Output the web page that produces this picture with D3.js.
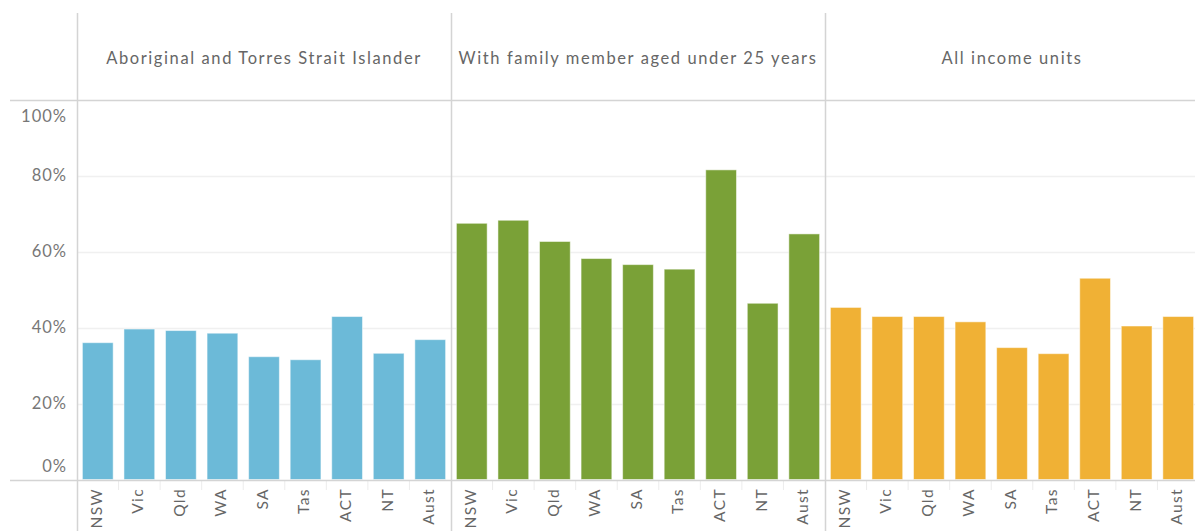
<!DOCTYPE html>
<html>
<head>
<meta charset="utf-8">
<script src="https://cdn.jsdelivr.net/npm/d3@7"></script>
<style>
  body { margin: 0; background: #fff; }
  svg { display: block; font-family: Lato, "Open Sans", sans-serif; }
</style>
</head>
<body>
<svg id="chart" width="1195" height="531"></svg>
<script>
const states = ["NSW", "Vic", "Qld", "WA", "SA", "Tas", "ACT", "NT", "Aust"];
const panels = ["Aboriginal and Torres Strait Islander", "With family member aged under 25 years", "All income units"];
const colors = ["#6cbad8", "#7aa137", "#f0b135"];
const indigenous = [0.361, 0.397, 0.393, 0.386, 0.324, 0.316, 0.430, 0.333, 0.369];
const youngFamily = [0.676, 0.684, 0.628, 0.583, 0.567, 0.555, 0.817, 0.465, 0.648];
const allUnits = [0.454, 0.430, 0.430, 0.416, 0.348, 0.332, 0.531, 0.405, 0.430];
const yTicks = [0, 0.2, 0.4, 0.6, 0.8, 1.0];
const series = [indigenous, youngFamily, allUnits];

const width = 1195, height = 531;
const left = 77, panelW = 374;
const svg = d3.select("#chart");

const y = d3.scaleLinear().domain([0, 1]).range([479.5, 100.5]);
const px = d3.scaleBand().domain(panels).range([left, left + panelW * 3]);
const x = d3.scaleBand().domain(states).range([0, panelW]).paddingInner(0.26).paddingOuter(0.13);

// gridlines
svg.append("g")
  .selectAll("line")
  .data(yTicks.filter((d) => d > 0 && d < 1))
  .join("line")
  .attr("x1", left).attr("x2", width)
  .attr("y1", (d) => Math.round(y(d)) + 0.5).attr("y2", (d) => Math.round(y(d)) + 0.5)
  .style("stroke", "#f0f0f0").style("stroke-width", 1.5);

// bars
panels.forEach((p, i) => {
  let g = svg.append("g").attr("transform", `translate(${px(p)},0)`);
  g.selectAll("rect")
    .data(series[i])
    .join("rect")
    .attr("x", (d, j) => x(states[j]))
    .attr("y", (d) => y(d))
    .attr("width", x.bandwidth())
    .attr("height", (d) => y(0) - y(d))
    .style("fill", colors[i])
    .style("stroke", "#fff")
    .style("stroke-opacity", 0.5)
    .style("stroke-width", 1);

  g.append("text")
    .attr("x", panelW / 2)
    .attr("y", 60)
    .attr("text-anchor", "middle")
    .attr("dominant-baseline", "middle")
    .style("font-size", "16.5px")
    .style("letter-spacing", "1.6px")
    .style("fill", "#666")
    .text(p);

  // x labels
  g.selectAll(".xl")
    .data(states)
    .join("text")
    .attr("class", "xl")
    .attr("transform", (d) => `translate(${x(d) + x.bandwidth() / 2},488) rotate(-90)`)
    .attr("text-anchor", "end")
    .attr("dominant-baseline", "middle")
    .style("font-size", "15.5px")
    .style("letter-spacing", "1.4px")
    .style("fill", "#666")
    .text((d) => d);

  // small separators between labels
  g.selectAll(".sep")
    .data(states.slice(1))
    .join("line")
    .attr("x1", (d) => x(d) - x.step() * x.paddingInner() / 2)
    .attr("x2", (d) => x(d) - x.step() * x.paddingInner() / 2)
    .attr("y1", 481).attr("y2", 490)
    .style("stroke", "#ececec");
});

// y axis labels
svg.append("g")
  .selectAll("text")
  .data(yTicks)
  .join("text")
  .attr("x", 67)
  .attr("y", (d) => (d == 1 ? y(d) + 17 : d == 0 ? y(d) - 12 : y(d) + 1))
  .attr("text-anchor", "end")
  .attr("dominant-baseline", "middle")
  .style("font-size", "16.5px")
  .style("letter-spacing", "1px")
  .style("fill", "#777")
  .text(d3.format(".0%"));

// frame lines
let border = "#d4d4d4";
svg.append("line").attr("x1", 10).attr("x2", width).attr("y1", 100.5).attr("y2", 100.5).style("stroke", border).style("stroke-width", 1.5);
svg.append("line").attr("x1", 10).attr("x2", width).attr("y1", 480.5).attr("y2", 480.5).style("stroke", border).style("stroke-width", 1.5);
svg.append("g")
  .selectAll("line")
  .data(panels)
  .join("line")
  .attr("x1", (d) => Math.round(px(d)) + 0.5)
  .attr("x2", (d) => Math.round(px(d)) + 0.5)
  .attr("y1", 13).attr("y2", height)
  .style("stroke", border).style("stroke-width", 1.5);
</script>
</body>
</html>
